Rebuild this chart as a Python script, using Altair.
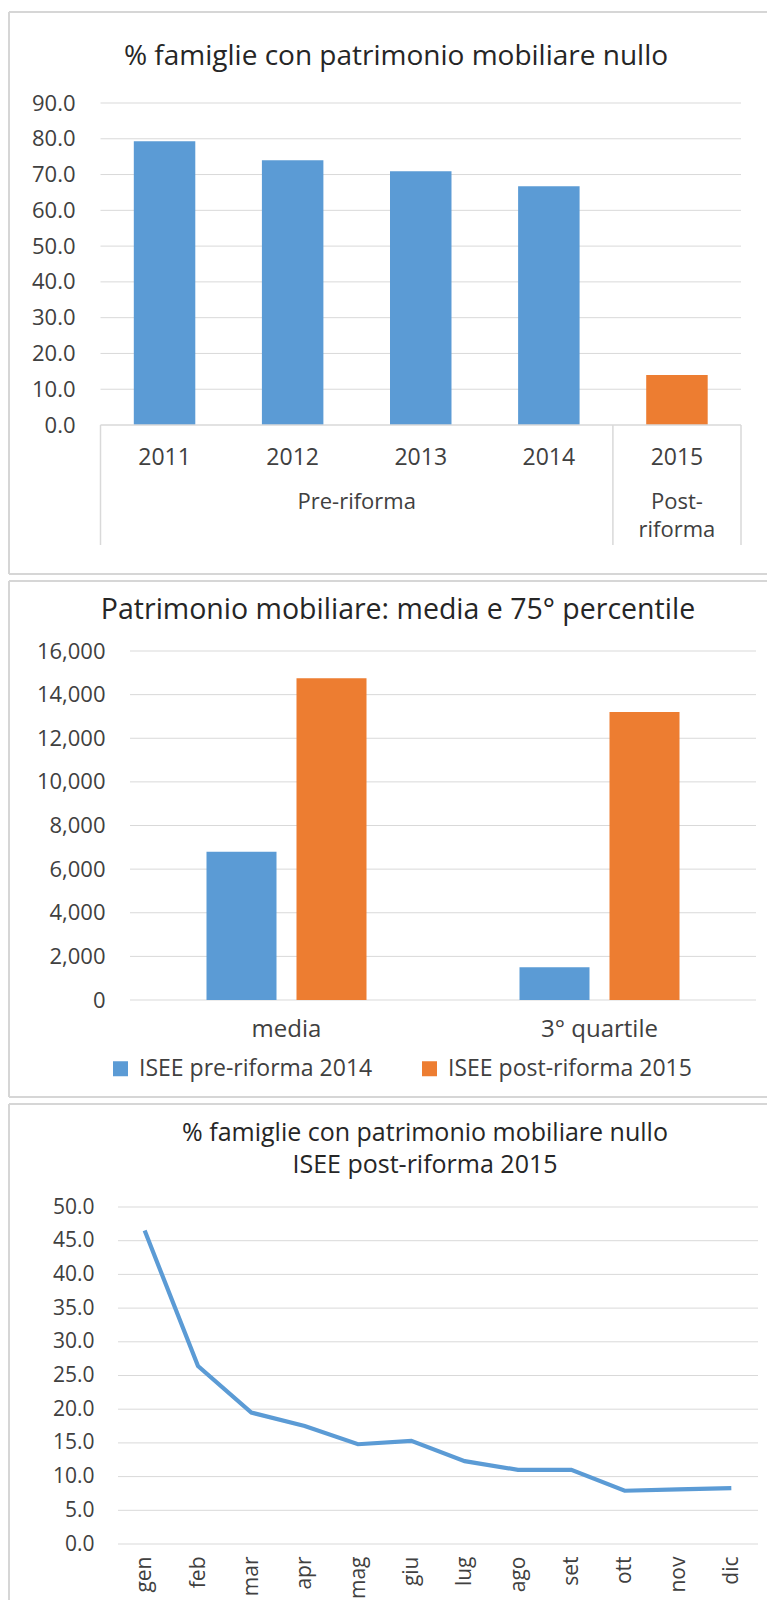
import altair as alt
import pandas as pd

FONT = "Open Sans"
BLUE = "#5b9bd5"
ORANGE = "#ed7d31"
GRID = "#d9d9d9"
FRAME = "#d6d6d6"
LABEL = "#404040"
TITLE = "#262626"

# ---------------- data ----------------
# chart 1
years = ["2011", "2012", "2013", "2014", "2015"]
zero_share = [79.3, 74.0, 70.9, 66.7, 14.0]
periods = ["Pre-riforma", "Pre-riforma", "Pre-riforma", "Pre-riforma", "Post-riforma"]
period_names = ["Pre-riforma", "Post-riforma"]
period_display = ["Pre-riforma", "Post-\nriforma"]
y1_ticks = [0, 10, 20, 30, 40, 50, 60, 70, 80, 90]
title1 = "% famiglie con patrimonio mobiliare nullo"

# chart 2
stats = ["media", "3° quartile"]
isee_pre_2014 = [6800, 1500]
isee_post_2015 = [14750, 13200]
series = ["ISEE pre-riforma 2014", "ISEE post-riforma 2015"]
y2_ticks = [0, 2000, 4000, 6000, 8000, 10000, 12000, 14000, 16000]
title2 = "Patrimonio mobiliare: media e 75° percentile"

# chart 3
months = ["gen", "feb", "mar", "apr", "mag", "giu", "lug", "ago", "set", "ott", "nov", "dic"]
zero_share_2015 = [46.5, 26.4, 19.5, 17.5, 14.8, 15.3, 12.3, 11.0, 11.0, 7.9, 8.1, 8.3]
y3_ticks = [0, 5, 10, 15, 20, 25, 30, 35, 40, 45, 50]
title3 = ["% famiglie con patrimonio mobiliare nullo", "ISEE post-riforma 2015"]

one = pd.DataFrame({"k": [0]})


def hline(x1, x2, y):
    return alt.Chart(one).mark_rule(color=FRAME, strokeWidth=2).encode(
        x=alt.value(x1), x2=alt.value(x2), y=alt.value(y))


def vline(x, y1, y2):
    return alt.Chart(one).mark_rule(color=FRAME, strokeWidth=2).encode(
        x=alt.value(x), y=alt.value(y1), y2=alt.value(y2))


FL, FR = -91, 667

# ---------------- chart 1 ----------------
W1, H1 = 641, 322
df1 = pd.DataFrame({"year": years, "value": zero_share, "period": periods})
idx = {}
for i, p in enumerate(periods):
    idx.setdefault(p, []).append(i)
grp = pd.DataFrame({
    "label": [period_display[period_names.index(p)] for p in idx],
    "pos": [sum(v) / len(v) for v in idx.values()],
})
bnd = pd.DataFrame({"b": [-0.5] + [max(v) + 0.5 for v in idx.values()]})

xband1 = alt.Scale(domain=years, range=[0.5, W1], paddingInner=0.52, paddingOuter=0.26)
xpos1 = alt.Scale(domain=[-0.5, len(years) - 0.5], range=[0.5, W1])
ys1 = alt.Scale(domain=[0, 90], nice=False)
ax1 = alt.Axis(title=None, values=y1_ticks, format=".1f", labelPadding=25, labelFontSize=22)

grid1 = alt.Chart(pd.DataFrame({"t": y1_ticks[1:]})).mark_rule(color=GRID, strokeWidth=1).encode(
    y=alt.Y("t:Q", scale=ys1, axis=ax1), x=alt.value(0.5), x2=alt.value(W1))
bars1 = alt.Chart(df1).mark_bar().encode(
    x=alt.X("year:N", scale=xband1, sort=years,
            axis=alt.Axis(title=None, labelPadding=21, labelFontSize=23, labelAngle=0)),
    y=alt.Y("value:Q", scale=ys1, axis=ax1),
    color=alt.Color("period:N", scale=alt.Scale(domain=period_names, range=[BLUE, ORANGE]), legend=None),
)
base1 = alt.Chart(one).mark_rule(color=GRID, strokeWidth=1.5).encode(
    y=alt.Y(datum=0, scale=ys1, axis=ax1), x=alt.value(0.5), x2=alt.value(W1))
div1 = alt.Chart(bnd).mark_rule(color=GRID, strokeWidth=1.5).encode(
    x=alt.X("b:Q", scale=xpos1, axis=None), y=alt.value(H1), y2=alt.value(442))
glab1 = alt.Chart(grp).mark_text(fontSize=22, color=LABEL, baseline="top", align="center",
                                 lineBreak="\n", lineHeight=28).encode(
    x=alt.X("pos:Q", scale=xpos1, axis=None), y=alt.value(389), text="label:N")
t1 = alt.Chart(one).mark_text(fontSize=28, color=TITLE, align="center", baseline="middle").encode(
    text=alt.value(title1), x=alt.value(296), y=alt.value(-46))

c1 = alt.layer(
    grid1, bars1, base1, div1, glab1, t1,
    hline(FL, FR, -91), hline(FL, FR, 471), vline(FL, -91, 471),
).resolve_scale(x="independent").properties(width=W1, height=H1)

# ---------------- chart 2 ----------------
W2, H2 = 656, 349
rows = []
for s, a, b in zip(stats, isee_pre_2014, isee_post_2015):
    rows.append({"stat": s, "series": series[0], "value": a})
    rows.append({"stat": s, "series": series[1], "value": b})
df2 = pd.DataFrame(rows)
xband2 = alt.Scale(domain=stats, range=[30, W2], paddingInner=0, paddingOuter=0)
xoff2 = alt.Scale(domain=series, paddingInner=2 / 9, paddingOuter=0.85)
ys2 = alt.Scale(domain=[0, 16000], nice=False)
ax2 = alt.Axis(title=None, values=y2_ticks, format=",.0f", labelPadding=25, offset=-30, labelFontSize=22)

grid2 = alt.Chart(pd.DataFrame({"t": y2_ticks})).mark_rule(color=GRID, strokeWidth=1).encode(
    y=alt.Y("t:Q", scale=ys2, axis=ax2), x=alt.value(30), x2=alt.value(W2))
bars2 = alt.Chart(df2).mark_bar().encode(
    x=alt.X("stat:N", scale=xband2, sort=stats,
            axis=alt.Axis(title=None, labelPadding=17, labelFontSize=24, labelAngle=0)),
    xOffset=alt.XOffset("series:N", scale=xoff2, sort=series),
    y=alt.Y("value:Q", scale=ys2, axis=ax2),
    color=alt.Color("series:N", scale=alt.Scale(domain=series, range=[BLUE, ORANGE]),
                    legend=alt.Legend(orient="none", legendX=9, legendY=406, direction="horizontal",
                                      title=None, symbolType="square", symbolSize=225,
                                      symbolStrokeWidth=0, labelFontSize=23, labelColor=LABEL,
                                      labelOffset=7, columnPadding=45, labelLimit=400, padding=0)),
)
t2 = alt.Chart(one).mark_text(fontSize=28.5, color=TITLE, align="center", baseline="middle").encode(
    text=alt.value(title2), x=alt.value(298), y=alt.value(-41))

c2 = alt.layer(
    grid2, bars2, t2,
    hline(FL, FR, -70), hline(FL, FR, 446), vline(FL, -70, 446),
).properties(width=W2, height=H2)

# ---------------- chart 3 ----------------
W3, H3 = 658, 337
df3 = pd.DataFrame({"month": months, "value": zero_share_2015})
xpt3 = alt.Scale(type="point", domain=months, range=[18, W3], padding=0.5)
ys3 = alt.Scale(domain=[0, 50], nice=False)
ax3 = alt.Axis(title=None, values=y3_ticks, format=".1f", labelPadding=6, labelFontSize=21)

grid3 = alt.Chart(pd.DataFrame({"t": y3_ticks})).mark_rule(color=GRID, strokeWidth=1).encode(
    y=alt.Y("t:Q", scale=ys3, axis=ax3), x=alt.value(18), x2=alt.value(W3))
line3 = alt.Chart(df3).mark_line(color=BLUE, strokeWidth=4.2).encode(
    x=alt.X("month:N", scale=xpt3, sort=months,
            axis=alt.Axis(title=None, labelAngle=270, labelAlign="right", labelBaseline="middle",
                          labelPadding=12, labelFontSize=21)),
    y=alt.Y("value:Q", scale=ys3, axis=ax3),
)
t3 = alt.Chart(one).mark_text(fontSize=25, color=TITLE, align="center", baseline="top",
                              lineHeight=32).encode(
    text=alt.value(title3), x=alt.value(325), y=alt.value(-86))

c3 = alt.layer(
    grid3, line3, t3,
    hline(FL, FR, -103), vline(FL, -103, 393),
).properties(width=W3, height=H3)

chart = alt.vconcat(c1, c2, c3, spacing=5).resolve_scale(
    color="independent"
).resolve_legend(color="independent").properties(
    padding={"left": 0, "top": 3, "right": 0, "bottom": 0}
).configure(font=FONT).configure_view(stroke=None).configure_axis(
    labelFont=FONT, labelColor=LABEL, domain=False, ticks=False, tickSize=0, grid=False
)

chart.save("out.html", embed_options={"renderer": "svg", "actions": False})
